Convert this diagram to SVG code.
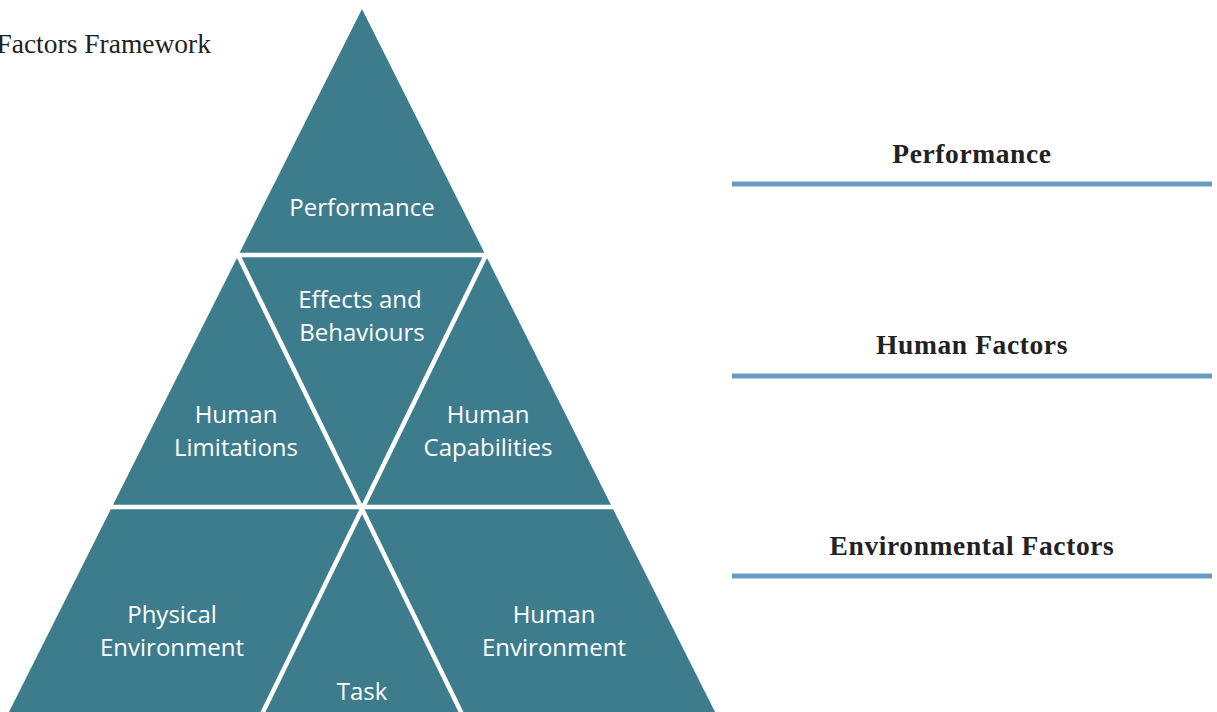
<svg xmlns="http://www.w3.org/2000/svg" width="1217" height="712" viewBox="0 0 1217 712">
<style>
.fill{fill:#3d7c8c}
.sep{stroke:#fff;stroke-width:4.5;fill:none}
.lbl{font-family:"Open Sans","Liberation Sans",sans-serif;font-size:24px;fill:#fff;text-anchor:middle}
.head{font-family:"Liberation Serif",serif;font-size:27.5px;font-weight:bold;fill:#222;text-anchor:middle;letter-spacing:0.6px}
.rule{stroke:#6b9bc0;stroke-width:5}
</style>
<rect width="1217" height="712" fill="#fff"/>
<text x="211" y="53" font-family="Liberation Serif,serif" font-size="27.5" fill="#222" text-anchor="end">Factors Framework</text>
<g id="pyramid">
<polygon class="fill" points="362,9 715,712 9,712"/>
</g>
<g id="connectors">
<line class="sep" x1="0" y1="255" x2="720" y2="255"/>
<line class="sep" x1="0" y1="507" x2="720" y2="507"/>
<line class="sep" x1="238" y1="255" x2="462" y2="714"/>
<line class="sep" x1="486" y1="255" x2="262" y2="714"/>
</g>
<g id="performance"><text class="lbl" x="362" y="216">Performance</text></g>
<g id="effects"><text class="lbl" x="360" y="308">Effects and</text><text class="lbl" x="362" y="341">Behaviours</text></g>
<g id="limitations"><text class="lbl" x="236" y="423">Human</text><text class="lbl" x="236" y="456">Limitations</text></g>
<g id="capabilities"><text class="lbl" x="488" y="423">Human</text><text class="lbl" x="488" y="456">Capabilities</text></g>
<g id="physical"><text class="lbl" x="172" y="623">Physical</text><text class="lbl" x="172" y="656">Environment</text></g>
<g id="humanenv"><text class="lbl" x="554" y="623">Human</text><text class="lbl" x="554" y="656">Environment</text></g>
<g id="task"><text class="lbl" x="362" y="700">Task</text></g>
<g id="legend-performance"><text class="head" x="972" y="163">Performance</text><line class="rule" x1="732" y1="184" x2="1212" y2="184"/></g>
<g id="legend-human"><text class="head" x="972" y="354">Human Factors</text><line class="rule" x1="732" y1="376" x2="1212" y2="376"/></g>
<g id="legend-env"><text class="head" x="972" y="555">Environmental Factors</text><line class="rule" x1="732" y1="576" x2="1212" y2="576"/></g>
</svg>
